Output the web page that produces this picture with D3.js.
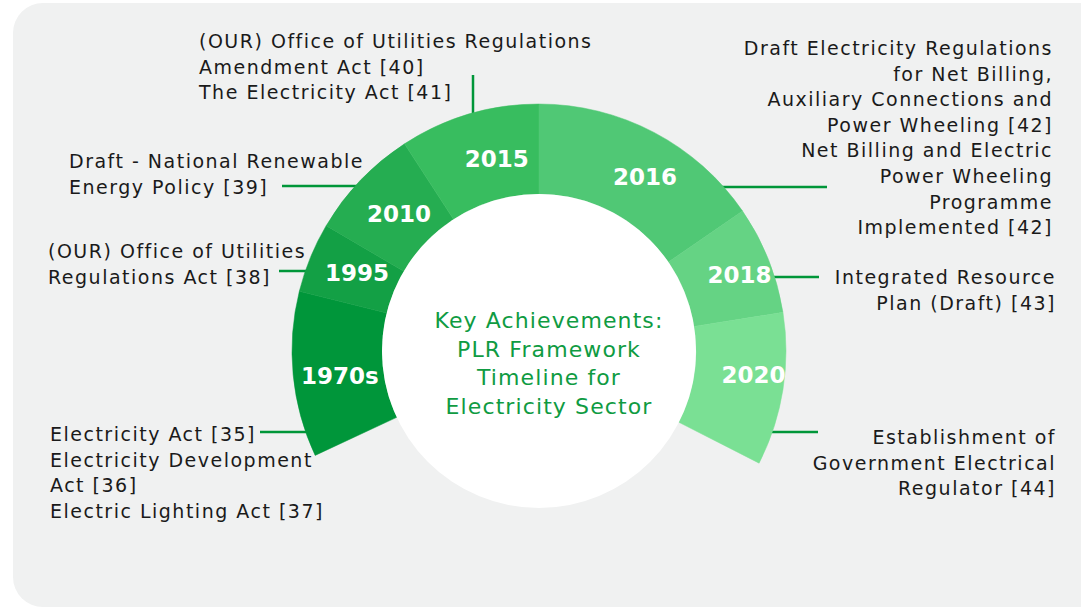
<!DOCTYPE html>
<meta charset="utf-8" />
<style>
  body { margin: 0; background: #fff; }
  text { font-family: "DejaVu Sans", sans-serif; }
  .note { font-size: 19px; letter-spacing: 1.5px; fill: #1a1a1a; }
  .year { font-size: 23px; font-weight: bold; fill: #fff; }
  .center { font-size: 22px; letter-spacing: 1.1px; fill: #0f9b42; }
  .leader { stroke: #009639; stroke-width: 2.5; }
</style>
<svg width="1081" height="608"></svg>
<script src="https://d3js.org/d3.v7.min.js"></script>
<script>
  // segments of the ring, in order round the arc
  const years = ['1970s', '1995', '2010', '2015', '2016', '2018', '2020'];
  const spans = [39, 16.5, 26.5, 33, 55.5, 25.5, 36];
  const colors = ['#00963a', '#13a045', '#25ad51', '#38bd5f', '#50c875', '#65d384', '#7ae094'];

  // text next to each segment
  const notes = [
    ['Electricity Act [35]', 'Electricity Development', 'Act [36]', 'Electric Lighting Act [37]'],
    ['(OUR) Office of Utilities', 'Regulations Act [38]'],
    ['Draft - National Renewable', 'Energy Policy [39]'],
    ['(OUR) Office of Utilities Regulations', 'Amendment Act [40]', 'The Electricity Act [41]'],
    ['Draft Electricity Regulations', 'for Net Billing,', 'Auxiliary Connections and', 'Power Wheeling [42]',
     'Net Billing and Electric', 'Power Wheeling', 'Programme', 'Implemented [42]'],
    ['Integrated Resource', 'Plan (Draft) [43]'],
    ['Establishment of', 'Government Electrical', 'Regulator [44]']
  ];
  const title = ['Key Achievements:', 'PLR Framework', 'Timeline for', 'Electricity Sector'];

  const svg = d3.select('svg');
  const cx = 539, cy = 351, r0 = 157, r1 = 247;
  const rad = d => d * Math.PI / 180;

  svg.append('rect')
    .attr('x', 13).attr('y', 3)
    .attr('width', 1100).attr('height', 604)
    .attr('rx', 30)
    .attr('fill', '#f0f1f1');

  const data = years.map((y, i) => ({ year: y, span: spans[i], color: colors[i], note: notes[i] }));

  const pie = d3.pie()
    .sort(null)
    .value(d => d.span)
    .startAngle(rad(-115))
    .endAngle(rad(117));
  const arcs = pie(data);

  const arc = d3.arc().innerRadius(r0).outerRadius(r1);

  const g = svg.append('g').attr('transform', `translate(${cx},${cy})`);

  // leader line: how each note joins the ring
  const leaders = [
    { side: 'left', y: 81, x: -279 },
    { side: 'left', y: -80, x: -260 },
    { side: 'left', y: -165, x: -257 },
    { side: 'up', x: -66, y: -276 },
    { side: 'right', y: -164, x: 288 },
    { side: 'right', y: -74, x: 280 },
    { side: 'right', y: 81, x: 279 }
  ];

  const ringX = y => Math.sqrt(Math.max(0, r1 * r1 - y * y)) - 4;

  leaders.forEach(l => {
    const line = g.append('line').attr('class', 'leader');
    if (l.side === 'up') {
      line.attr('x1', l.x).attr('x2', l.x).attr('y1', l.y)
        .attr('y2', -Math.sqrt(r1 * r1 - l.x * l.x) + 4);
    } else {
      const s = l.side === 'left' ? -1 : 1;
      line.attr('y1', l.y).attr('y2', l.y).attr('x1', l.x).attr('x2', s * ringX(l.y));
    }
  });

  g.selectAll('path.seg')
    .data(arcs)
    .join('path')
    .attr('class', 'seg')
    .attr('d', arc)
    .attr('fill', d => d.data.color)
    .attr('stroke', d => d.data.color)
    .attr('stroke-width', 0.5);

  g.append('circle').attr('r', r0).attr('fill', '#fff');

  // small nudges of the year labels off the segment centroid
  const nudge = [[2, 7], [5, 0], [6, 4], [15, 3], [12, 6], [13, 0], [15, -6]];

  g.selectAll('text.year')
    .data(arcs)
    .join('text')
    .attr('class', 'year')
    .attr('x', (d, i) => arc.centroid(d)[0] + nudge[i][0])
    .attr('y', (d, i) => arc.centroid(d)[1] + nudge[i][1])
    .attr('text-anchor', 'middle')
    .attr('dominant-baseline', 'middle')
    .text(d => d.data.year);

  g.append('text')
    .attr('class', 'center')
    .attr('text-anchor', 'middle')
    .selectAll('tspan')
    .data(title)
    .join('tspan')
    .attr('x', 10)
    .attr('y', (d, i) => -23 + i * 28.5)
    .text(d => d);

  // notes
  const lh = 25.6;
  const noteAnchors = [
    { x: 50, y: 441, a: 'start' },
    { x: 48, y: 258, a: 'start' },
    { x: 69, y: 168, a: 'start' },
    { x: 199, y: 48, a: 'start' },
    { x: 1053, y: 55, a: 'end' },
    { x: 1056, y: 284, a: 'end' },
    { x: 1056, y: 444, a: 'end' }
  ];

  data.forEach((d, i) => {
    const p = noteAnchors[i];
    svg.append('text')
      .attr('class', 'note')
      .attr('text-anchor', p.a)
      .selectAll('tspan')
      .data(d.note)
      .join('tspan')
      .attr('x', p.x)
      .attr('y', (t, j) => p.y + j * lh)
      .text(t => t);
  });
</script>
